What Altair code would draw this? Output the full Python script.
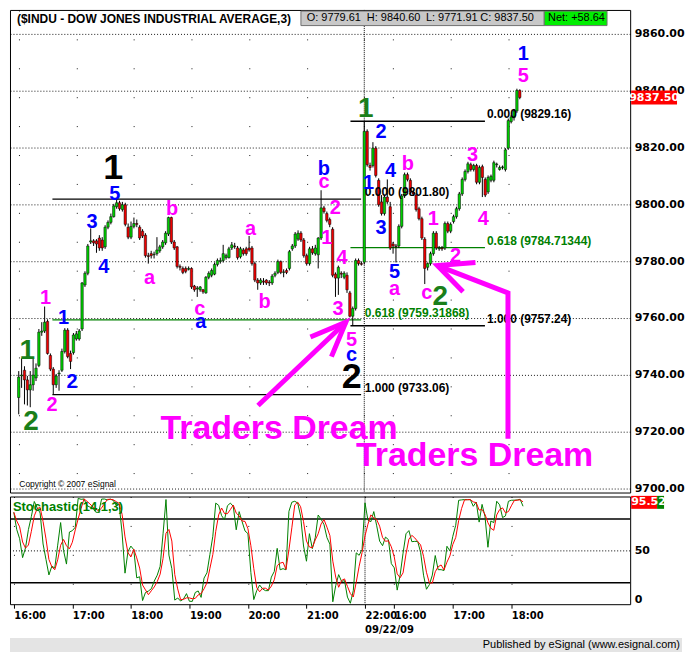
import altair as alt
import pandas as pd

# ---------------- data: 3-minute bars of $INDU (bar index, OHLC) ----------------
OPEN = [9732.0, 9739.6, 9741.6, 9738.2, 9734.7, 9736.5, 9738.9, 9743.3, 9755.0, 9755.4,
        9758.8, 9746.8, 9742.0, 9736.5, 9740.3, 9741.6, 9748.2, 9755.7, 9747.5, 9747.8,
        9752.6, 9752.6, 9756.1, 9771.6, 9775.7, 9786.7, 9787.1, 9787.1, 9788.1, 9787.4,
        9785.0, 9791.9, 9793.6, 9795.6, 9799.1, 9800.5, 9798.1, 9799.8, 9791.9, 9788.4,
        9792.2, 9793.2, 9791.9, 9790.5, 9789.1, 9781.9, 9782.6, 9782.2, 9782.6, 9783.6,
        9785.0, 9786.4, 9789.5, 9795.3, 9786.7, 9785.0, 9778.1, 9777.4, 9777.4, 9777.1,
        9777.4, 9771.2, 9770.2, 9769.9, 9769.9, 9768.8, 9774.3, 9775.0, 9775.4, 9778.8,
        9779.8, 9780.2, 9781.2, 9781.2, 9784.6, 9785.3, 9784.6, 9781.5, 9783.9, 9784.3,
        9784.6, 9784.6, 9779.1, 9773.3, 9772.3, 9772.9, 9773.3, 9772.6, 9772.3, 9775.0,
        9776.0, 9779.8, 9776.0, 9776.7, 9777.4, 9784.3, 9785.3, 9787.7, 9789.8, 9787.4,
        9781.9, 9779.1, 9784.3, 9782.6, 9782.2, 9788.1, 9798.7, 9796.7, 9794.6, 9791.2,
        9775.4, 9774.0, 9775.7, 9774.3, 9775.0, 9768.8, 9760.6, 9763.3, 9780.2, 9779.1,
        9779.61, 9825.6, 9813.6, 9813.6, 9819.7, 9808.4, 9800.8, 9796.7, 9802.5, 9799.1,
        9786.0, 9785.3, 9785.3, 9792.2, 9802.9, 9810.4, 9808.4, 9804.3, 9803.2, 9798.4,
        9794.9, 9787.7, 9777.8, 9779.1, 9782.6, 9789.8, 9784.3, 9784.6, 9784.6, 9793.2,
        9790.5, 9793.9, 9795.6, 9798.4, 9803.6, 9808.7, 9811.5, 9813.9, 9812.2, 9813.6,
        9807.7, 9813.2, 9808.7, 9804.3, 9808.4, 9808.4, 9813.9, 9812.2, 9812.9, 9812.2,
        9819.7, 9829.0, 9830.4, 9832.8, 9840.0]
HIGH = [9741.3, 9745.8, 9743.0, 9739.6, 9741.3, 9745.8, 9744.0, 9756.1, 9758.5, 9764.0,
        9759.5, 9747.5, 9742.7, 9740.3, 9741.6, 9749.2, 9756.4, 9756.4, 9748.5, 9754.7,
        9755.4, 9756.1, 9772.6, 9776.4, 9786.0, 9791.5, 9787.7, 9787.7, 9789.1, 9788.4,
        9792.6, 9794.3, 9796.7, 9800.1, 9801.8, 9801.2, 9800.8, 9800.5, 9793.2, 9793.9,
        9795.3, 9794.6, 9792.6, 9791.2, 9789.8, 9782.9, 9783.6, 9783.3, 9788.4, 9785.7,
        9787.4, 9790.5, 9795.6, 9795.6, 9787.4, 9785.3, 9778.8, 9778.1, 9778.1, 9778.1,
        9777.8, 9771.6, 9771.2, 9771.2, 9770.2, 9774.7, 9776.4, 9777.4, 9779.5, 9780.9,
        9781.2, 9785.7, 9782.6, 9785.0, 9786.7, 9786.4, 9785.3, 9785.0, 9784.6, 9785.0,
        9788.8, 9785.3, 9779.8, 9774.0, 9774.0, 9774.0, 9773.6, 9773.3, 9775.4, 9776.4,
        9780.5, 9780.2, 9777.1, 9777.4, 9783.9, 9786.0, 9790.2, 9790.8, 9790.5, 9788.1,
        9782.6, 9785.0, 9785.3, 9785.7, 9788.4, 9804.9, 9799.4, 9797.4, 9795.3, 9791.9,
        9776.0, 9778.4, 9776.4, 9776.4, 9776.0, 9769.5, 9764.0, 9780.9, 9780.9, 9779.8,
        9829.16, 9826.3, 9814.6, 9821.8, 9820.4, 9809.1, 9803.2, 9803.2, 9808.7, 9800.8,
        9786.7, 9786.0, 9792.9, 9803.6, 9811.1, 9811.1, 9809.1, 9804.9, 9803.9, 9799.1,
        9795.6, 9788.4, 9779.5, 9783.3, 9790.5, 9790.5, 9785.3, 9785.3, 9793.9, 9793.9,
        9793.6, 9796.3, 9799.1, 9804.3, 9809.4, 9812.2, 9814.9, 9814.6, 9814.2, 9814.2,
        9813.6, 9813.9, 9809.4, 9810.1, 9810.4, 9815.3, 9814.6, 9813.6, 9813.6, 9819.7,
        9830.1, 9831.4, 9833.5, 9840.6, 9840.4]
LOW = [9726.1, 9735.4, 9729.6, 9729.2, 9728.6, 9734.4, 9737.8, 9742.7, 9753.7, 9754.7,
       9747.1, 9741.3, 9733.06, 9735.4, 9734.4, 9741.0, 9747.5, 9745.8, 9742.0, 9747.1,
       9752.0, 9752.0, 9755.4, 9770.9, 9775.0, 9786.0, 9785.3, 9782.9, 9783.6, 9783.6,
       9784.3, 9791.2, 9792.9, 9795.3, 9798.4, 9797.7, 9797.4, 9792.2, 9787.7, 9787.7,
       9791.5, 9791.9, 9787.4, 9788.1, 9781.2, 9779.1, 9780.9, 9780.9, 9781.9, 9782.9,
       9784.3, 9785.7, 9788.8, 9786.0, 9783.9, 9777.4, 9776.7, 9775.4, 9775.7, 9776.7,
       9770.2, 9769.2, 9767.4, 9769.2, 9768.5, 9768.5, 9773.6, 9774.3, 9775.0, 9778.1,
       9779.1, 9779.5, 9780.5, 9780.9, 9783.9, 9784.3, 9780.5, 9780.9, 9781.9, 9781.9,
       9783.3, 9778.4, 9772.6, 9769.9, 9771.6, 9771.6, 9771.6, 9771.2, 9771.6, 9774.3,
       9775.4, 9775.4, 9774.3, 9775.4, 9776.7, 9783.6, 9784.6, 9787.1, 9786.7, 9781.2,
       9778.4, 9778.4, 9782.2, 9781.9, 9777.4, 9787.4, 9796.7, 9793.6, 9791.9, 9774.3,
       9767.4, 9768.1, 9774.0, 9773.6, 9768.8, 9760.2, 9757.24, 9762.6, 9778.4, 9778.4,
       9778.8, 9813.2, 9811.8, 9812.9, 9809.4, 9799.1, 9796.0, 9796.0, 9800.1, 9783.9,
       9782.6, 9779.5, 9784.6, 9791.5, 9802.2, 9808.0, 9803.6, 9802.9, 9797.4, 9794.3,
       9787.4, 9771.91, 9776.7, 9778.4, 9781.9, 9783.9, 9783.6, 9783.6, 9783.9, 9789.8,
       9789.8, 9793.2, 9794.9, 9797.7, 9802.9, 9808.0, 9810.8, 9811.5, 9811.5, 9807.0,
       9807.0, 9802.5, 9802.5, 9803.6, 9807.7, 9807.7, 9812.9, 9811.8, 9812.2, 9811.5,
       9819.1, 9828.4, 9829.4, 9832.1, 9836.9]
CLOSE = [9739.2, 9739.9, 9738.2, 9734.7, 9736.5, 9739.9, 9742.3, 9755.0, 9755.4, 9758.5,
         9747.5, 9742.0, 9736.5, 9739.6, 9740.6, 9748.2, 9755.7, 9746.4, 9744.7, 9754.0,
         9754.4, 9755.4, 9772.3, 9775.7, 9785.3, 9787.1, 9786.4, 9786.0, 9784.6, 9784.6,
         9791.9, 9793.6, 9795.6, 9799.4, 9800.5, 9798.4, 9799.8, 9792.9, 9788.4, 9792.2,
         9793.2, 9792.9, 9788.1, 9788.8, 9781.9, 9781.6, 9781.9, 9782.4, 9783.9, 9785.0,
         9786.7, 9789.8, 9795.3, 9786.7, 9784.6, 9778.1, 9777.8, 9776.0, 9776.4, 9777.4,
         9770.9, 9769.9, 9770.5, 9770.9, 9769.2, 9774.3, 9775.7, 9776.7, 9778.8, 9780.2,
         9780.2, 9782.6, 9781.9, 9784.3, 9785.7, 9785.1, 9781.2, 9784.3, 9782.6, 9782.6,
         9783.9, 9779.1, 9773.3, 9772.3, 9773.3, 9772.6, 9772.3, 9772.3, 9774.7, 9775.7,
         9779.8, 9776.0, 9776.2, 9776.0, 9783.3, 9785.3, 9789.5, 9789.8, 9787.4, 9781.9,
         9779.1, 9784.3, 9782.9, 9784.6, 9788.1, 9798.7, 9797.4, 9794.3, 9792.9, 9775.0,
         9774.0, 9777.8, 9775.4, 9775.7, 9769.9, 9760.6, 9763.3, 9780.2, 9779.1, 9778.86,
         9825.6, 9813.9, 9812.9, 9819.7, 9810.1, 9799.8, 9796.7, 9802.5, 9800.8, 9784.6,
         9785.3, 9785.1, 9792.2, 9802.9, 9810.4, 9808.7, 9804.3, 9803.6, 9798.1, 9794.9,
         9788.1, 9777.4, 9779.1, 9782.6, 9789.8, 9784.6, 9784.6, 9784.3, 9793.2, 9790.5,
         9792.9, 9795.6, 9798.4, 9803.6, 9808.7, 9811.5, 9814.2, 9812.2, 9813.6, 9807.7,
         9812.9, 9809.4, 9803.2, 9809.4, 9809.8, 9814.6, 9814.1, 9812.9, 9813.1, 9819.1,
         9829.4, 9830.7, 9832.8, 9840.0, 9837.5]

HOUR_TICKS = [0, 20, 40, 60, 80, 100, 120, 130, 150, 170]
PRICE_TICKS = [9700, 9720, 9740, 9760, 9780, 9800, 9820, 9840, 9860]
STOCH_TICKS = [0, 50]
DAY_BREAK = [120]
DATE_LABEL = ["09/22/09"]

# Fibonacci retracements
FIB_LEVEL = ["0.000", "0.618", "1.000", "0.000", "0.618", "1.000"]
FIB_PRICE = [9801.80, 9759.31868, 9733.06, 9829.16, 9784.71344, 9757.24]
FIB_LABEL = ["0.000 (9801.80)", "0.618 (9759.31868)", "1.000 (9733.06)",
             "0.000 (9829.16)", "0.618 (9784.71344)", "1.000 (9757.24)"]
FIB_FROM = [11.7, 11.7, 11.7, 115.2, 115.2, 115.2]
FIB_TO = [118.9, 118.9, 118.9, 161.9, 161.9, 161.9]
FIB_TEXT_AT = [120.2, 120.2, 120.2, 162.6, 162.6, 162.6]

# Elliott wave labels (bar index, price)
BLACK_T = ["1", "2"]
BLACK_X = [32.8, 115.6]
BLACK_Y = [9812.6, 9739.2]
GREEN_T = ["1", "2", "1", "2"]
GREEN_X = [3.0, 4.3, 120.5, 146.4]
GREEN_Y = [9748.5, 9723.4, 9833.5, 9767.4]
BLUE_T = ["1", "2", "3", "4", "5", "a", "b", "c", "2", "1", "4", "3", "5", "1"]
BLUE_X = [15.6, 18.5, 25.5, 29.5, 33.4, 63.2, 106.0, 115.6, 125.8, 121.5, 129.1, 125.8, 130.5, 175.2]
BLUE_Y = [9759.9, 9737.5, 9793.6, 9777.8, 9803.6, 9758.5, 9812.5, 9746.8, 9825.2, 9807.4,
          9811.8, 9791.5, 9776.0, 9852.8]
MAG_T = ["1", "2", "a", "b", "c", "a", "b", "c", "2", "1", "4", "3", "5", "a", "b", "1", "c",
         "2", "3", "4", "5"]
MAG_X = [9.3, 11.6, 45.4, 53.3, 62.9, 80.5, 85.4, 106.0, 109.9, 107.0, 112.3, 110.9, 115.6,
         130.5, 135.1, 144.0, 141.7, 151.7, 157.6, 161.3, 175.2]
MAG_Y = [9767.1, 9729.2, 9774.0, 9798.4, 9763.3, 9791.2, 9765.7, 9807.7, 9798.7, 9788.1,
         9781.2, 9763.3, 9752.3, 9770.2, 9814.2, 9794.9, 9768.8, 9781.9, 9817.3, 9794.9, 9844.9]
DREAM_T = ["Traders Dream", "Traders Dream"]
DREAM_X = [90.4, 158.3]
DREAM_Y = [9721.0, 9711.3]

# arrows: polylines (segment id, bar index, price)
ARROW_SEG = ["s1", "s1", "h1", "h1", "h1", "s2", "s2", "s2", "h2", "h2", "h2"]
ARROW_X = [83.1, 113.6, 101.3, 113.6, 108.6, 169.9, 169.9, 145.4, 158.6, 145.4, 154.3]
ARROW_Y = [9729.2, 9758.5, 9753.3, 9758.5, 9746.4, 9717.5, 9768.8, 9778.4, 9779.5, 9778.4, 9769.2]

# header quote box
HDR_T = ["O: 9779.61", "H: 9840.60", "L: 9771.91", "C: 9837.50", "Net: +58.64"]
HDR_X = [100.0, 120.9, 141.4, 160.3, 183.8]
HDR_BOX = {"x0": [98.0, 182.5], "x1": [182.5, 204.3], "kind": ["quote", "net"]}
HDR_Y0, HDR_Y1, HDR_YT = 9862.8, 9867.9, 9865.3
TITLE = "($INDU - DOW JONES INDUSTRIAL AVERAGE,3)"
LAST_PRICE = 9837.50
LAST_STOCH = 95.52

# ---------------- chart ----------------
W, H1, H2 = 622, 484, 108
FONT = "Liberation Sans"
AXFONT = "DejaVu Sans"

bars = pd.DataFrame({"i": list(range(len(CLOSE))), "open": OPEN, "high": HIGH,
                     "low": LOW, "close": CLOSE})

XS = alt.Scale(domain=[-1.3, 210.6], nice=False, zero=False)
PS = alt.Scale(domain=[9698.6, 9868.3], nice=False, zero=False)
SS = alt.Scale(domain=[0, 101], nice=False, zero=False)

PX_AX = alt.Axis(values=HOUR_TICKS, labels=False, ticks=False, domain=False, grid=True,
                 gridColor="black", gridDash=[1, 28], gridOpacity=0.9, title=None)
PY_AX = alt.Axis(orient="right", values=PRICE_TICKS, format=".2f", ticks=False, domain=False,
                 grid=True, gridColor="black", gridDash=[1, 2], gridOpacity=0.9,
                 labelPadding=4, labelFontSize=11, labelFlush=False, title=None)
SX_AX = alt.Axis(values=HOUR_TICKS,
                 labelExpr="(datum.value <= 120 ? 16 + datum.value / 20 : 15.5 + (datum.value - 120) / 20) + ':00'",
                 labelAlign="left", labelOverlap=False, labelFlush=False, labelFontSize=10,
                 labelPadding=2, ticks=True, tickSize=4, tickColor="black", domain=False,
                 grid=True, gridColor="black", gridDash=[1, 28], gridOpacity=0.9, title=None)
SY_AX = alt.Axis(orient="right", values=STOCH_TICKS, ticks=False, domain=False, grid=False,
                 labelFlush=True, labelPadding=4, labelFontSize=11, title=None)


def px(f="i"):
    return alt.X(f"{f}:Q", scale=XS, axis=PX_AX)


def py(f="p"):
    return alt.Y(f"{f}:Q", scale=PS, axis=PY_AX)


def sx(f="i"):
    return alt.X(f"{f}:Q", scale=XS, axis=SX_AX)


def sy(f):
    return alt.Y(f"{f}:Q", scale=SS, axis=SY_AX)


def labels(texts, xs, ys, color, size, font=FONT, align="center"):
    d = pd.DataFrame({"t": texts, "i": xs, "p": ys})
    return alt.Chart(d).mark_text(color=color, fontSize=size, fontWeight="bold", font=font,
                                  align=align, baseline="middle").encode(
        x=px(), y=py(), text="t:N")


base = alt.Chart(bars)

daybreak = alt.Chart(pd.DataFrame({"i": DAY_BREAK})).mark_rule(
    color="black", strokeDash=[1, 1], strokeWidth=1).encode(x=px())

fib = pd.DataFrame({"lvl": FIB_LEVEL, "p": FIB_PRICE, "lab": FIB_LABEL, "x0": FIB_FROM,
                    "x1": FIB_TO, "xt": FIB_TEXT_AT})
fib_color = alt.condition("datum.lvl == '0.618'", alt.value("#008000"), alt.value("black"))
fib_lines = alt.Chart(fib).mark_rule(strokeWidth=1.3).encode(
    x=px("x0"), x2="x1:Q", y=py(), color=fib_color)
fib_text = alt.Chart(fib).mark_text(align="left", baseline="middle", dy=-7, font=FONT,
                                    fontWeight="bold", fontSize=12).encode(
    x=px("xt"), y=py(), text="lab:N", color=fib_color)

wicks = base.mark_rule(color="black", strokeWidth=1).encode(x=px(), y=py("low"), y2="high:Q")
bodies = base.mark_bar(width=2.4, stroke="black", strokeWidth=0.5).encode(
    x=px(), y=py("open"), y2="close:Q",
    color=alt.condition("datum.close >= datum.open", alt.value("#00d000"), alt.value("#ee0000")))

arrows = alt.Chart(pd.DataFrame({"seg": ARROW_SEG, "i": ARROW_X, "p": ARROW_Y,
                                 "o": list(range(len(ARROW_X)))})).mark_line(
    color="#ff00ff", strokeWidth=5, strokeJoin="miter").encode(
    x=px(), y=py(), detail="seg:N", order="o:Q")

hdr_box = alt.Chart(pd.DataFrame(HDR_BOX)).mark_rect(stroke="#707070", strokeWidth=1).encode(
    x=px("x0"), x2="x1:Q", y=alt.datum(HDR_Y0, scale=PS, axis=PY_AX), y2=alt.datum(HDR_Y1),
    color=alt.condition("datum.kind == 'net'", alt.value("#00ee00"), alt.value("#c8c8c8")))
hdr_text = alt.Chart(pd.DataFrame({"t": HDR_T, "i": HDR_X, "p": [HDR_YT] * len(HDR_T)})).mark_text(
    align="left", baseline="middle", font=FONT, fontSize=11, color="black").encode(
    x=px(), y=py(), text="t:N")
title = alt.Chart(pd.DataFrame({"t": [TITLE], "i": [-0.6], "p": [9865.0]})).mark_text(
    align="left", baseline="middle", font=FONT, fontWeight="bold", fontSize=12,
    color="black").encode(x=px(), y=py(), text="t:N")
copyright_ = alt.Chart(pd.DataFrame({"t": ["Copyright © 2007 eSignal"], "i": [0.2],
                                     "p": [9701.6]})).mark_text(
    align="left", baseline="middle", font=FONT, fontSize=8.5, color="black").encode(
    x=px(), y=py(), text="t:N")

price_tag_df = pd.DataFrame({"p": [LAST_PRICE], "t": [f"{LAST_PRICE:.2f}"]})
price_tag = alt.Chart(price_tag_df).mark_point(
    shape="M-23,-7L23,-7L23,7L-23,7Z", size=4, filled=True, color="#ff0000", opacity=1,
    strokeWidth=0).encode(x=alt.value(W + 24), y=py())
price_tag_t = alt.Chart(price_tag_df).mark_text(
    font=AXFONT, fontWeight="bold", fontSize=11, color="white", align="center",
    baseline="middle").encode(x=alt.value(W + 24), y=py(), text="t:N")

price = alt.layer(
    daybreak, fib_lines, wicks, bodies, fib_text,
    labels(BLACK_T, BLACK_X, BLACK_Y, "black", 36),
    labels(GREEN_T, GREEN_X, GREEN_Y, "#1a7f1a", 28),
    labels(BLUE_T, BLUE_X, BLUE_Y, "#0000ff", 20),
    labels(MAG_T, MAG_X, MAG_Y, "#ff00ff", 20),
    arrows,
    labels(DREAM_T, DREAM_X, DREAM_Y, "#ff00ff", 34),
    hdr_box, hdr_text, title, copyright_, price_tag, price_tag_t,
).properties(width=W, height=H1)

# ---------------- stochastic (14,1,3) computed from the bars ----------------
sbase = base.transform_window(
    hh="max(high)", ll="min(low)", frame=[-13, 0], sort=[alt.SortField("i")]
).transform_calculate(
    k="100 * (datum.close - datum.ll) / (datum.hh - datum.ll)"
).transform_window(
    d="mean(k)", frame=[-2, 0], sort=[alt.SortField("i")]
)
k_line = sbase.mark_line(color="#008000", strokeWidth=1, clip=True).encode(x=sx(), y=sy("k"))
d_line = sbase.mark_line(color="#ff0000", strokeWidth=1, clip=True).encode(x=sx(), y=sy("d"))

bands = alt.Chart(pd.DataFrame({"v": [20, 80]})).mark_rule(color="black", strokeWidth=1.5).encode(
    y=sy("v"))
mid = alt.Chart(pd.DataFrame({"v": [50]})).mark_rule(color="black", strokeDash=[1, 2]).encode(
    y=sy("v"))
s_break = alt.Chart(pd.DataFrame({"i": DAY_BREAK})).mark_rule(
    color="black", strokeDash=[1, 1]).encode(x=sx())
s_title = alt.Chart(pd.DataFrame({"t": ["Stochastic(14,1,3)"], "i": [-0.3], "v": [91.0]})).mark_text(
    align="left", baseline="middle", font=FONT, fontWeight="bold", fontSize=13,
    color="#008000").encode(x=sx(), y=sy("v"), text="t:N")

stag_df = pd.DataFrame({"v": [LAST_STOCH], "t": [f"{LAST_STOCH:.2f}"]})
stag_red = alt.Chart(stag_df).mark_point(
    shape="M0,-6.5L26,-6.5L26,6.5L0,6.5Z", size=4, filled=True, color="#ff0000", opacity=1,
    strokeWidth=0).encode(x=alt.value(W + 1), y=sy("v"))
stag_green = alt.Chart(stag_df).mark_point(
    shape="M26,-6.5L33,-6.5L33,6.5L26,6.5Z", size=4, filled=True, color="#008000", opacity=1,
    strokeWidth=0).encode(x=alt.value(W + 1), y=sy("v"))
stag_t = alt.Chart(stag_df).mark_text(
    font=AXFONT, fontWeight="bold", fontSize=11, color="white", align="left",
    baseline="middle").encode(x=alt.value(W + 1), y=sy("v"), text="t:N")

date_t = alt.Chart(pd.DataFrame({"i": DAY_BREAK, "t": DATE_LABEL})).mark_text(
    align="left", baseline="alphabetic", font=AXFONT, fontWeight="bold", fontSize=10,
    color="black").encode(x=sx(), y=alt.value(H2 + 29), text="t:N")
footer_band = alt.Chart(pd.DataFrame({"a": [0]})).mark_rect(color="#e4e4e4").encode(
    x=alt.value(0), x2=alt.value(W + 52), y=alt.value(H2 + 34), y2=alt.value(H2 + 48))
footer_t = alt.Chart(pd.DataFrame({"t": ["Published by eSignal (www.esignal.com)"]})).mark_text(
    align="right", baseline="middle", font=FONT, fontSize=11, color="black").encode(
    x=alt.value(W + 50), y=alt.value(H2 + 41), text="t:N")

stoch = alt.layer(
    mid, bands, s_break, k_line, d_line, s_title, stag_red, stag_green, stag_t,
    date_t, footer_band, footer_t,
).properties(width=W, height=H2)

chart = alt.vconcat(price, stoch, spacing=0).properties(
    padding=0, background="white"
).configure_view(stroke="black", strokeWidth=1).configure_axis(
    labelFont=AXFONT, labelFontWeight="bold", labelColor="black"
)

chart.save("out.html", embed_options={"renderer": "svg", "actions": False})
